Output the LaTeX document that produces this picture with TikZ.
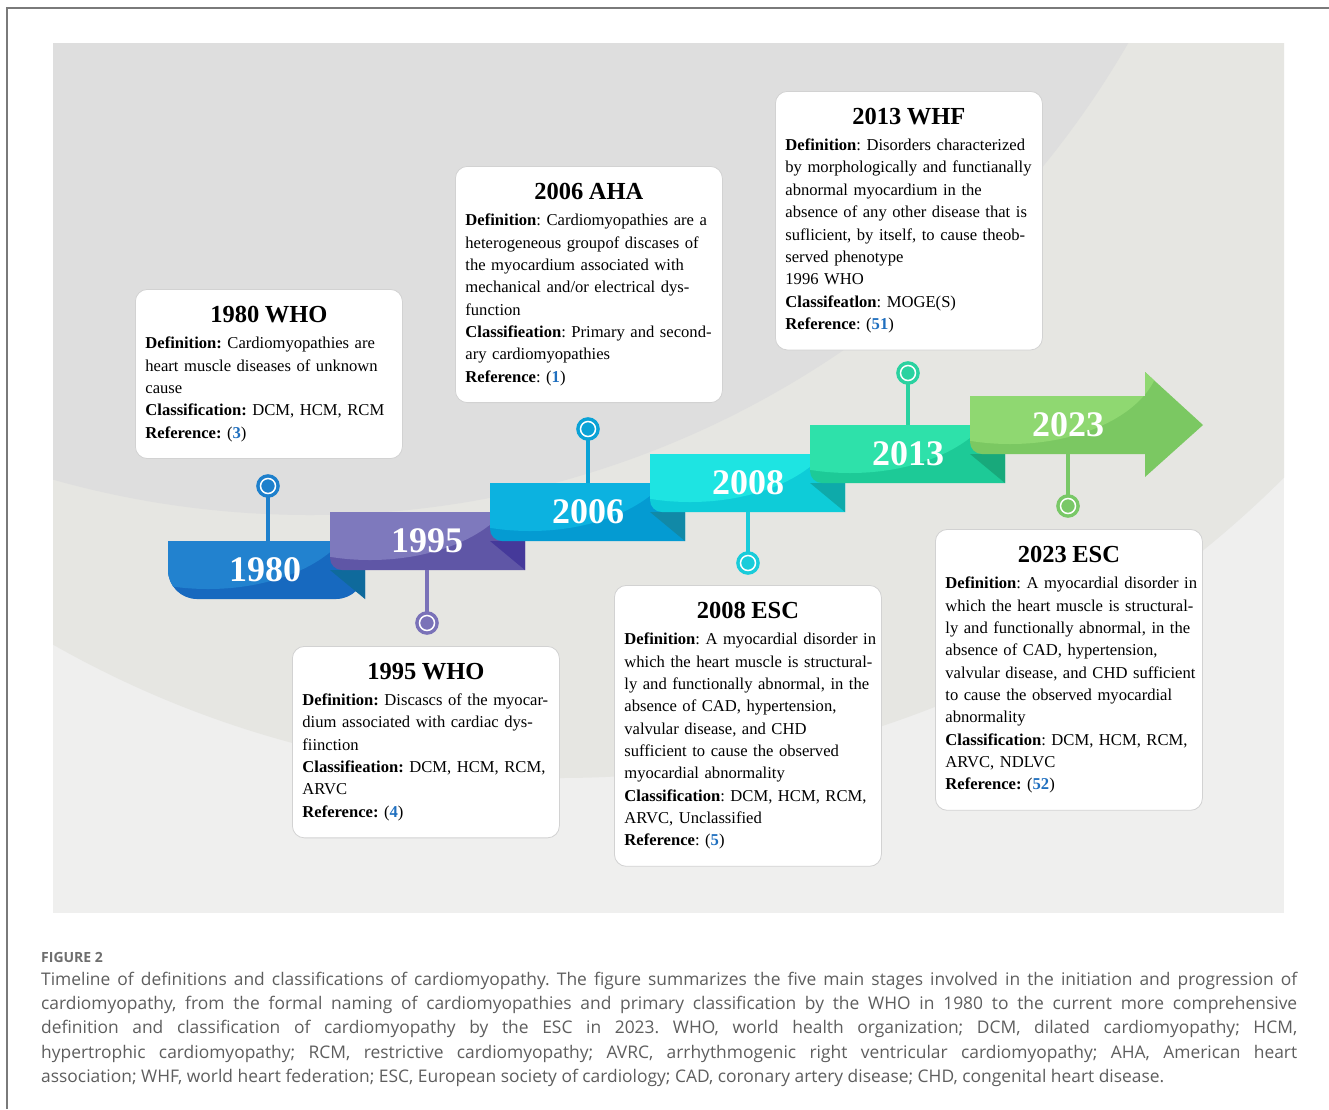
\documentclass[tikz,border=0pt]{standalone}
\usepackage{fontspec}
\setmainfont{Liberation Serif}
\newfontfamily\capfont{Open Sans}

\definecolor{bgdark}{HTML}{DEDEDE}
\definecolor{bgmid}{HTML}{E6E6E2}
\definecolor{bglight}{HTML}{EFEFEE}
\definecolor{framegray}{HTML}{7A7A7A}
\definecolor{boxline}{HTML}{D2D2D2}
\definecolor{refblue}{HTML}{1F6FBF}
\definecolor{capgray}{HTML}{5E5E5E}
\definecolor{figgray}{HTML}{6E6E6E}
\definecolor{c80l}{HTML}{2282CF}
\definecolor{c80d}{HTML}{1769BF}
\definecolor{c80f}{HTML}{0F6A9C}
\definecolor{c80p}{HTML}{1E80CC}
\definecolor{c95l}{HTML}{7E79BD}
\definecolor{c95d}{HTML}{5F56A6}
\definecolor{c95f}{HTML}{45399A}
\definecolor{c95p}{HTML}{7A72B8}
\definecolor{c06l}{HTML}{0CB2E0}
\definecolor{c06d}{HTML}{049BD2}
\definecolor{c06f}{HTML}{1189A7}
\definecolor{c06p}{HTML}{0AA2D6}
\definecolor{c08l}{HTML}{1EE4E2}
\definecolor{c08d}{HTML}{0ECCD8}
\definecolor{c08f}{HTML}{0EAAAA}
\definecolor{c08p}{HTML}{19CCDA}
\definecolor{c13l}{HTML}{2EE1AA}
\definecolor{c13d}{HTML}{1DCA97}
\definecolor{c13f}{HTML}{18A97B}
\definecolor{c13p}{HTML}{2AD2A0}
\definecolor{c23l}{HTML}{8FD871}
\definecolor{c23d}{HTML}{7BC862}
\definecolor{c23p}{HTML}{79C867}

\newcommand{\rf}[1]{\textbf{\textcolor{refblue}{#1}}}
\newcommand{\ttl}{\fontsize{24.5}{28}\selectfont\bfseries}
\newcommand{\bodyset}{\raggedright\rightskip=-12pt plus 1fil\relax}
\frenchspacing

\begin{document}
\begin{tikzpicture}[x=1pt,y=-1pt]
\tikzstyle{every node}+=[inner sep=0pt]
\tikzstyle{infobox}=[draw=boxline, line width=0.8pt, fill=white, rounded corners=12pt, anchor=north west, text width=247pt, inner xsep=10pt, inner ysep=17pt, font=\fontsize{16.6}{22.35}\selectfont]
\tikzstyle{yearlabel}=[minimum width=120pt, minimum height=58pt, text=white, font=\fontsize{36}{36}\selectfont\bfseries]
\tikzstyle{pinring}=[circle, minimum size=15pt, line width=3.5pt, double=white, double distance=1.5pt]
\tikzstyle{stem}=[line width=3.5pt]

\useasboundingbox (0,0) rectangle (1329,1109);
\fill[white] (0,0) rectangle (1329,1109);
\draw[framegray, line width=1.3pt] (7,1109) -- (7,8) -- (1329,8);

% background panel
\begin{scope}
\clip (53,43) rectangle (1284,913);
\fill[bglight] (53,43) rectangle (1284,913);
\fill[bgmid] (559,-247) circle [radius=1025];
\fill[bgdark] (310,-430) circle [radius=945];
\end{scope}

% ribbons
\fill[c80d, path picture={\fill[c80l] (208,501) ellipse [x radius=150, y radius=88];}]
  (365,599) -- (365,541) -- (168,541) [rounded corners=29pt] -- (168,599) -- (365,599) [sharp corners] -- cycle;
\fill[c80f] (330,570) -- (365,570) -- (365,599) -- cycle;
\node[yearlabel] (y80) at (265,570) {1980};

\fill[c95d, path picture={\fill[c95l] (370,472) ellipse [x radius=150, y radius=88];}]
  (525,570) -- (525,512) -- (330,512) [rounded corners=12pt] -- (330,570) [sharp corners] -- cycle;
\fill[c95f] (490,541) -- (525,541) -- (525,570) -- cycle;
\node[yearlabel] (y95) at (427,541) {1995};

\fill[c06d, path picture={\fill[c06l] (530,443) ellipse [x radius=150, y radius=88];}]
  (685,541) -- (685,483) -- (490,483) [rounded corners=12pt] -- (490,541) [sharp corners] -- cycle;
\fill[c06f] (650,512) -- (685,512) -- (685,541) -- cycle;
\node[yearlabel] (y06) at (588,512) {2006};

\fill[c08d, path picture={\fill[c08l] (690,414) ellipse [x radius=150, y radius=88];}]
  (845,512) -- (845,454) -- (650,454) [rounded corners=12pt] -- (650,512) [sharp corners] -- cycle;
\fill[c08f] (810,483) -- (845,483) -- (845,512) -- cycle;
\node[yearlabel] (y08) at (748,483) {2008};

\fill[c13d, path picture={\fill[c13l] (850,385) ellipse [x radius=150, y radius=88];}]
  (1005,483) -- (1005,425) -- (810,425) [rounded corners=12pt] -- (810,483) [sharp corners] -- cycle;
\fill[c13f] (970,454) -- (1005,454) -- (1005,483) -- cycle;
\node[yearlabel] (y13) at (908,454) {2013};

\fill[c23d, path picture={\fill[c23l] (1010,356) ellipse [x radius=150, y radius=88];}]
  (1145,454) -- (1145,477) -- (1203,425) -- (1145,372) -- (1145,396) -- (970,396) [rounded corners=12pt] -- (970,454) [sharp corners] -- cycle;
\node[yearlabel] (y23) at (1068,425) {2023};

% pins
\node[pinring, draw=c80p, fill=c80p] (p80) at (268,486) {};
\node[pinring, draw=c95p, fill=c95p] (p95) at (427,623) {};
\node[pinring, draw=c06p, fill=c06p] (p06) at (588,429) {};
\node[pinring, draw=c08p, fill=c08p] (p08) at (748,563) {};
\node[pinring, draw=c13p, fill=c13p] (p13) at (908,373) {};
\node[pinring, draw=c23p, fill=c23p] (p23) at (1068,506) {};
\draw[stem, c80p] (y80.north -| p80) -- (p80);
\draw[stem, c95p] (y95.south -| p95) -- (p95);
\draw[stem, c06p] (y06.north -| p06) -- (p06);
\draw[stem, c08p] (y08.south -| p08) -- (p08);
\draw[stem, c13p] (y13.north -| p13) -- (p13);
\draw[stem, c23p] (y23.south -| p23) -- (p23);

% boxes
\node[infobox] (who80) at (135,289) {\centering{\ttl 1980 WHO}\par\vspace{3.6pt}\bodyset
\textbf{Definition:} Cardiomyopathies are\\
heart muscle diseases of unknown\\
cause\\
\textbf{Classification:} DCM, HCM, RCM\\
\textbf{Reference:} (\rf{3})};

\node[infobox] (aha06) at (455,166) {\centering{\ttl 2006 AHA}\par\vspace{3.6pt}\bodyset
\textbf{Definition}: Cardiomyopathies are a\\
heterogeneous groupof discases of\\
the myocardium associated with\\
mechanical and/or electrical dys-\\
function\\
\textbf{Classifieation}: Primary and second-\\
ary cardiomyopathies\\
\textbf{Reference}: (\rf{1})};

\node[infobox] (whf13) at (775,91) {\centering{\ttl 2013 WHF}\par\vspace{3.6pt}\bodyset
\textbf{Definition}: Disorders characterized\\
by morphologically and functianally\\
abnormal myocardium in the\\
absence of any other disease that is\\
suflicient, by itself, to cause theob-\\
served phenotype\\
1996 WHO\\
\textbf{Classifeatlon}: MOGE(S)\\
\textbf{Reference}: (\rf{51})};

\node[infobox] (who95) at (292,646) {\centering{\ttl 1995 WHO}\par\vspace{3.6pt}\bodyset
\textbf{Definition:} Discascs of the myocar-\\
dium associated with cardiac dys-\\
fiinction\\
\textbf{Classifieation:} DCM, HCM, RCM,\\
ARVC\\
\textbf{Reference:} (\rf{4})};

\node[infobox] (esc08) at (614,585) {\centering{\ttl 2008 ESC}\par\vspace{3.6pt}\bodyset
\textbf{Definition}: A myocardial disorder in\\
which the heart muscle is structural-\\
ly and functionally abnormal, in the\\
absence of CAD, hypertension,\\
valvular disease, and CHD\\
sufficient to cause the observed\\
myocardial abnormality\\
\textbf{Classification}: DCM, HCM, RCM,\\
ARVC, Unclassified\\
\textbf{Reference}: (\rf{5})};

\node[infobox] (esc23) at (935,529) {\centering{\ttl 2023 ESC}\par\vspace{3.6pt}\bodyset
\textbf{Definition}: A myocardial disorder in\\
which the heart muscle is structural-\\
ly and functionally abnormal, in the\\
absence of CAD, hypertension,\\
valvular disease, and CHD sufficient\\
to cause the observed myocardial\\
abnormality\\
\textbf{Classification}: DCM, HCM, RCM,\\
ARVC, NDLVC\\
\textbf{Reference:} (\rf{52})};

% caption
\node[anchor=base west, text=figgray, font=\capfont\bfseries\fontsize{14}{16}\selectfont] (fig) at (41,962) {FIGURE 2};
\node[anchor=north west, text width=1256pt, align=justify, text=capgray, font=\capfont\fontsize{17.4}{24.2}\selectfont] (cap) at (41,972) {Timeline of definitions and classifications of cardiomyopathy. The figure summarizes the five main stages involved in the initiation and progression of\linebreak
cardiomyopathy, from the formal naming of cardiomyopathies and primary classification by the WHO in 1980 to the current more comprehensive\linebreak
definition and classification of cardiomyopathy by the ESC in 2023. WHO, world health organization; DCM, dilated cardiomyopathy; HCM,\linebreak
hypertrophic cardiomyopathy; RCM, restrictive cardiomyopathy; AVRC, arrhythmogenic right ventricular cardiomyopathy; AHA, American heart\linebreak
association; WHF, world heart federation; ESC, European society of cardiology; CAD, coronary artery disease; CHD, congenital heart disease.};
\end{tikzpicture}
\end{document}
